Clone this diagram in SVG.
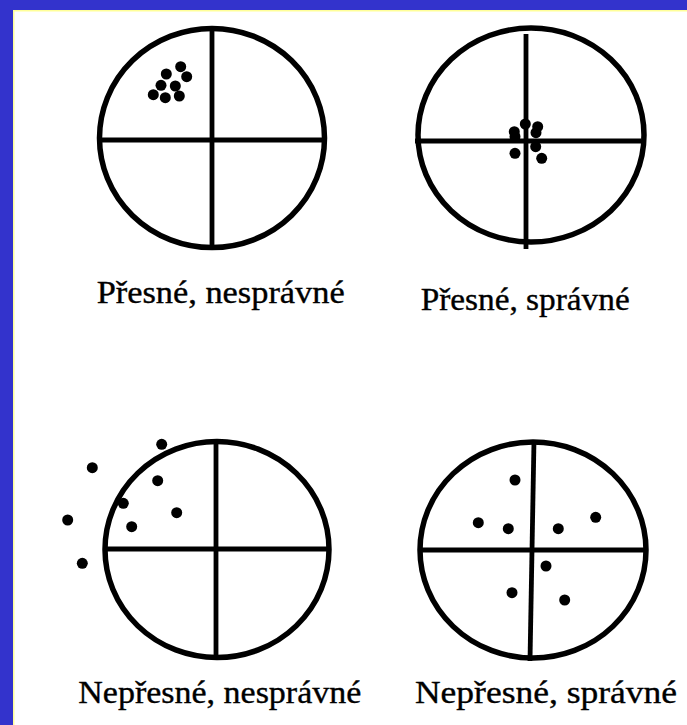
<svg xmlns="http://www.w3.org/2000/svg" width="687" height="725" viewBox="0 0 687 725">
<style>
.ring{fill:none;stroke:#000;stroke-width:5.5}
.cross{stroke:#000;stroke-width:4.8}
.dot{fill:#000}
.lbl{font-family:"Liberation Serif","Times New Roman",serif;font-size:31px;fill:#000;stroke:#000;stroke-width:0.35}
</style>
<rect x="0" y="0" width="687" height="725" fill="#fff"/>
<rect x="0" y="0" width="687" height="10" fill="#3333CC"/>
<rect x="0" y="0" width="13" height="725" fill="#3333CC"/>
<rect x="13" y="10" width="674" height="1.5" fill="#FFFF99"/>
<rect x="13" y="10" width="1.5" height="715" fill="#FFFF99"/>

<g id="target1">
<ellipse class="ring" cx="212" cy="138" rx="112.5" ry="109.5"/>
<line class="cross" x1="97" y1="140" x2="327" y2="140"/>
<line class="cross" x1="212" y1="26" x2="212" y2="250"/>
<g class="dot">
<circle cx="180.7" cy="66.7" r="5.5"/><circle cx="186.7" cy="76.7" r="5.5"/><circle cx="166.3" cy="74" r="5.5"/><circle cx="161" cy="85.3" r="5.5"/><circle cx="175.3" cy="86" r="5.5"/><circle cx="153.3" cy="94.7" r="5.5"/><circle cx="165.3" cy="97.7" r="5.5"/><circle cx="179.3" cy="96" r="5.5"/>
</g>
<text class="lbl" x="96.7" y="303" textLength="248" lengthAdjust="spacingAndGlyphs">Přesné, nesprávné</text>
</g>

<g id="target2">
<ellipse class="ring" cx="531" cy="135" rx="113" ry="107"/>
<line class="cross" x1="415" y1="141" x2="641" y2="141"/>
<line class="cross" x1="526" y1="34" x2="526" y2="249"/>
<g class="dot">
<circle cx="525.3" cy="124" r="5.5"/><circle cx="514.3" cy="131.7" r="5.5"/><circle cx="515" cy="136.7" r="5.5"/><circle cx="537.7" cy="126.7" r="5.5"/><circle cx="536" cy="132.7" r="5.5"/><circle cx="535.7" cy="146.7" r="5.5"/><circle cx="515" cy="153.3" r="5.5"/><circle cx="541.7" cy="158.3" r="5.5"/>
</g>
<text class="lbl" x="420.7" y="310" textLength="209" lengthAdjust="spacingAndGlyphs">Přesné, správné</text>
</g>

<g id="target3">
<ellipse class="ring" cx="217" cy="549.5" rx="112" ry="108"/>
<line class="cross" x1="103" y1="549" x2="331" y2="549"/>
<line class="cross" x1="216" y1="439" x2="216" y2="660"/>
<g class="dot">
<circle cx="161.7" cy="444.3" r="5.5"/><circle cx="92.3" cy="467.7" r="5.5"/><circle cx="157.7" cy="480.7" r="5.5"/><circle cx="123.3" cy="503.3" r="5.5"/><circle cx="176.7" cy="512.7" r="5.5"/><circle cx="67.7" cy="520" r="5.5"/><circle cx="131.7" cy="526.7" r="5.5"/><circle cx="82.3" cy="563.3" r="5.5"/>
</g>
<text class="lbl" x="78.3" y="703.3" textLength="283" lengthAdjust="spacingAndGlyphs">Nepřesné, nesprávné</text>
</g>

<g id="target4">
<ellipse class="ring" cx="533" cy="550" rx="113" ry="108"/>
<line class="cross" x1="418" y1="550" x2="648" y2="550"/>
<line class="cross" x1="534" y1="440" x2="530" y2="661"/>
<g class="dot">
<circle cx="515" cy="480" r="5.5"/><circle cx="478.3" cy="522.7" r="5.5"/><circle cx="508.3" cy="528.7" r="5.5"/><circle cx="558.3" cy="528.7" r="5.5"/><circle cx="595.7" cy="517.3" r="5.5"/><circle cx="546" cy="566" r="5.5"/><circle cx="512" cy="592.7" r="5.5"/><circle cx="564.7" cy="600" r="5.5"/>
</g>
<text class="lbl" x="415" y="703" textLength="262" lengthAdjust="spacingAndGlyphs">Nepřesné, správné</text>
</g>
</svg>
